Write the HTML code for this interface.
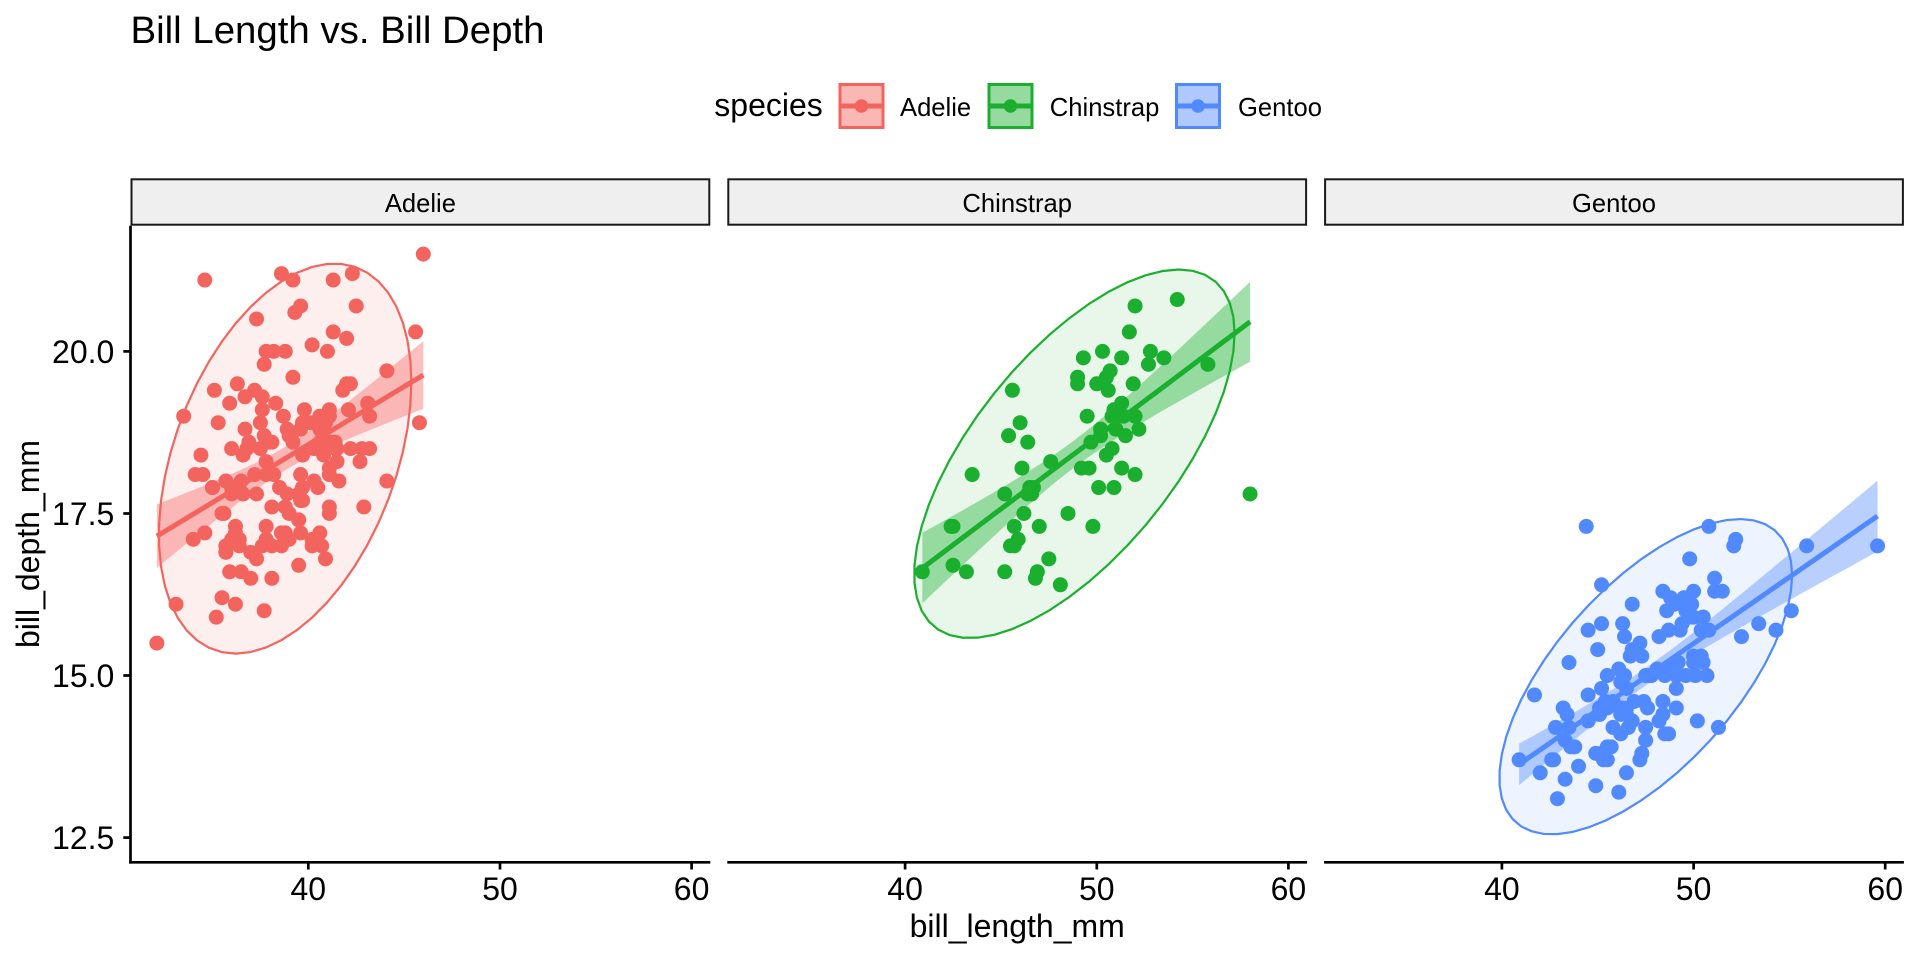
<!DOCTYPE html>
<html><head><meta charset="utf-8"><style>
html,body{margin:0;padding:0;background:#fff;}
svg{display:block;}
text{font-family:"Liberation Sans",Arial,sans-serif;fill:#000;}
</style></head><body>
<svg id="s" width="1920" height="960" viewBox="0 0 1920 960" xmlns="http://www.w3.org/2000/svg">
<rect width="1920" height="960" fill="#fff"/>
<text x="130.5" y="43" font-size="38.4">Bill Length vs. Bill Depth</text>

<!-- legend -->
<text x="714.3" y="116" font-size="32">species</text>
<g>
  <rect x="840" y="84.5" width="43" height="43" fill="#F4645E" fill-opacity="0.46" stroke="#F4645E" stroke-width="3"/>
  <line x1="840" y1="106" x2="883" y2="106" stroke="#F4645E" stroke-width="5"/>
  <circle cx="861.5" cy="106" r="6.8" fill="#F4645E"/>
  <rect x="989" y="84.5" width="43" height="43" fill="#1AAF2E" fill-opacity="0.46" stroke="#1AAF2E" stroke-width="3"/>
  <line x1="989" y1="106" x2="1032" y2="106" stroke="#1AAF2E" stroke-width="5"/>
  <circle cx="1010.5" cy="106" r="6.8" fill="#1AAF2E"/>
  <rect x="1176.5" y="84.5" width="43" height="43" fill="#5189FF" fill-opacity="0.46" stroke="#5189FF" stroke-width="3"/>
  <line x1="1176.5" y1="106" x2="1219.5" y2="106" stroke="#5189FF" stroke-width="5"/>
  <circle cx="1198" cy="106" r="6.8" fill="#5189FF"/>
</g>
<text x="900" y="116" font-size="25.6">Adelie</text>
<text x="1049.8" y="116" font-size="25.6">Chinstrap</text>
<text x="1238" y="116" font-size="25.6">Gentoo</text>

<!-- strips -->
<rect x="131.5" y="179.3" width="577.8" height="45.4" fill="#EFEFEF" stroke="#1a1a1a" stroke-width="2"/>
<rect x="728.3" y="179.3" width="577.8" height="45.4" fill="#EFEFEF" stroke="#1a1a1a" stroke-width="2"/>
<rect x="1325.1" y="179.3" width="577.8" height="45.4" fill="#EFEFEF" stroke="#1a1a1a" stroke-width="2"/>
<text x="420.4" y="212" font-size="25.6" text-anchor="middle">Adelie</text>
<text x="1017.2" y="212" font-size="25.6" text-anchor="middle">Chinstrap</text>
<text x="1614" y="212" font-size="25.6" text-anchor="middle">Gentoo</text>

<g id="data"></g>

<!-- y axis -->
<g stroke="#000" stroke-width="2.7" fill="none">
  <line x1="130.5" y1="225.7" x2="130.5" y2="863.6"/>
  <line x1="123.3" y1="351.4" x2="130.5" y2="351.4"/>
  <line x1="123.3" y1="513.5" x2="130.5" y2="513.5"/>
  <line x1="123.3" y1="675.5" x2="130.5" y2="675.5"/>
  <line x1="123.3" y1="837.6" x2="130.5" y2="837.6"/>
  <!-- x axes -->
  <line x1="129.2" y1="862.3" x2="710.3" y2="862.3"/>
  <line x1="727.3" y1="862.3" x2="1307.1" y2="862.3"/>
  <line x1="1324.1" y1="862.3" x2="1903.9" y2="862.3"/>
  <line x1="308.3" y1="862.3" x2="308.3" y2="869.5"/>
  <line x1="500" y1="862.3" x2="500" y2="869.5"/>
  <line x1="691.6" y1="862.3" x2="691.6" y2="869.5"/>
  <line x1="905.1" y1="862.3" x2="905.1" y2="869.5"/>
  <line x1="1096.8" y1="862.3" x2="1096.8" y2="869.5"/>
  <line x1="1288.4" y1="862.3" x2="1288.4" y2="869.5"/>
  <line x1="1501.9" y1="862.3" x2="1501.9" y2="869.5"/>
  <line x1="1693.6" y1="862.3" x2="1693.6" y2="869.5"/>
  <line x1="1885.2" y1="862.3" x2="1885.2" y2="869.5"/>
</g>
<g font-size="32" text-anchor="end">
  <text x="114.3" y="362.9">20.0</text>
  <text x="114.3" y="525">17.5</text>
  <text x="114.3" y="687">15.0</text>
  <text x="114.3" y="849.1">12.5</text>
</g>
<g font-size="32" text-anchor="middle">
  <text x="308.3" y="900">40</text>
  <text x="500" y="900">50</text>
  <text x="691.6" y="900">60</text>
  <text x="905.1" y="900">40</text>
  <text x="1096.8" y="900">50</text>
  <text x="1288.4" y="900">60</text>
  <text x="1501.9" y="900">40</text>
  <text x="1693.6" y="900">50</text>
  <text x="1885.2" y="900">60</text>
  <text x="1017.2" y="937">bill_length_mm</text>
  <text x="0" y="0" transform="translate(39,544) rotate(-90)">bill_depth_mm</text>
</g>
</svg>
<script>
const A=[[39.1,18.7],[39.5,17.4],[40.3,18],[36.7,19.3],[39.3,20.6],[38.9,17.8],[39.2,19.6],[34.1,18.1],[42,20.2],[37.8,17.1],[37.8,17.3],[41.1,17.6],[38.6,21.2],[34.6,21.1],[36.6,17.8],[38.7,19],[42.5,20.7],[34.4,18.4],[46,21.5],[37.8,18.3],[37.7,18.7],[35.9,19.2],[38.2,18.1],[38.8,17.2],[35.3,18.9],[40.6,18.6],[40.5,17.9],[37.9,18.6],[40.5,18.9],[39.5,16.7],[37.2,18.1],[39.5,17.8],[40.9,18.9],[36.4,17],[39.2,21.1],[38.8,20],[42.2,18.5],[37.6,19.3],[39.8,19.1],[36.5,18],[40.8,18.4],[36,18.5],[44.1,19.7],[37,16.9],[39.6,18.8],[41.1,19],[37.5,18.9],[36,17.9],[42.3,21.2],[39.6,17.7],[40.1,18.9],[35,17.9],[42,19.5],[34.5,18.1],[41.4,18.6],[39,17.5],[40.6,18.8],[36.5,16.6],[37.6,19.1],[35.7,16.9],[41.3,21.1],[37.6,17],[41.1,18.2],[36.4,17.1],[41.6,18],[35.5,16.2],[41.1,19.1],[35.9,16.6],[41.8,19.4],[33.5,19],[39.7,18.4],[39.6,17.2],[45.8,18.9],[35.5,17.5],[42.8,18.5],[40.9,16.8],[37.2,19.4],[36.2,16.1],[42.1,19.1],[34.6,17.2],[42.9,17.6],[36.7,18.8],[35.1,19.4],[37.3,17.8],[41.3,20.3],[36.3,19.5],[36.9,18.6],[38.3,19.2],[38.9,18.8],[35.7,18],[41.1,18.1],[34,17.1],[39.6,18.1],[36.2,17.3],[40.8,18.9],[38.1,18.6],[40.3,18.5],[33.1,16.1],[43.2,18.5],[35,17.9],[41,20],[37.7,16],[37.8,20],[37.9,18.6],[39.7,18.9],[38.6,17.2],[38.2,20],[38.1,17],[43.2,19],[38.1,16.5],[45.6,20.3],[39.7,17.7],[42.2,19.5],[39.6,20.7],[42.7,18.3],[38.6,17],[37.3,20.5],[35.7,17],[41.1,18.6],[36.2,17.2],[37.7,19.8],[40.2,17],[41.4,18.5],[35.2,15.9],[40.6,19],[38.8,17.6],[41.5,18.3],[39,17.1],[44.1,18],[38.5,17.9],[43.1,19.2],[36.8,18.5],[37.5,18.5],[38.1,17.6],[41.1,17.5],[35.6,17.5],[40.2,20.1],[37,16.5],[39.7,17.9],[40.2,17.1],[40.6,17.2],[32.1,15.5],[40.7,17],[37.3,16.8],[39,18.7],[39.2,18.6],[36.6,18.4],[36,17.8],[37.8,18.1],[36,17.1],[41.5,18.5]];
const C=[[46.5,17.9],[50,19.5],[51.3,19.2],[45.4,18.7],[52.7,19.8],[45.2,17.8],[46.1,18.2],[51.3,18.2],[46,18.9],[51.3,19.9],[46.6,17.8],[51.7,20.3],[47,17.3],[52,18.1],[45.9,17.1],[50.5,19.6],[50.3,20],[58,17.8],[46.4,18.6],[49.2,18.2],[42.4,17.3],[48.5,17.5],[43.2,16.6],[50.6,19.4],[46.7,17.9],[52,19],[50.5,18.4],[49.5,19],[46.4,17.8],[52.8,20],[40.9,16.6],[54.2,20.8],[42.5,16.7],[51,18.8],[49.7,18.6],[47.5,16.8],[47.6,18.3],[52,20.7],[46.9,16.6],[53.5,19.9],[49,19.5],[46.2,17.5],[50.9,19.1],[45.5,17],[50.9,17.9],[50.8,18.5],[50.1,17.9],[49,19.6],[51.5,18.7],[49.8,17.3],[48.1,16.4],[51.4,19],[45.7,17.3],[50.7,19.7],[42.5,17.3],[52.2,18.8],[45.2,16.6],[49.3,19.9],[50.2,18.8],[45.6,19.4],[51.9,19.5],[46.8,16.5],[45.7,17],[55.8,19.8],[43.5,18.1],[49.6,18.2],[50.8,19],[50.2,18.7]];
const G=[[46.1,13.2],[50,16.3],[48.7,14.1],[50,15.2],[47.6,14.5],[46.5,13.5],[45.4,14.6],[46.7,15.3],[43.3,13.4],[46.8,15.4],[40.9,13.7],[49,16.1],[45.5,13.7],[48.4,14.6],[45.8,14.6],[49.3,15.7],[42,13.5],[49.2,15.2],[46.2,14.5],[48.7,15.1],[50.2,14.3],[45.1,14.5],[46.5,14.5],[46.3,15.8],[42.9,13.1],[46.1,15.1],[44.5,14.3],[47.8,15],[48.2,14.3],[50,15.3],[47.3,15.3],[42.8,14.2],[45.1,14.5],[59.6,17],[49.1,14.8],[48.4,16.3],[42.6,13.7],[44.4,17.3],[44,13.6],[48.7,15.7],[42.7,13.7],[49.6,16],[45.3,13.7],[49.6,15],[50.5,15.9],[43.6,13.9],[45.5,13.9],[50.5,15.9],[44.9,13.3],[45.2,15.8],[46.6,14.2],[48.5,14.1],[45.1,14.4],[50.1,15],[46.5,14.4],[45,15.4],[43.8,13.9],[45.5,15],[43.2,14.5],[50.4,15.3],[45.3,13.8],[46.2,14.9],[45.7,13.9],[54.3,15.7],[45.8,14.2],[49.8,16.8],[46.2,14.4],[49.5,16.2],[43.5,14.2],[50.7,15],[47.7,15],[46.4,15.6],[48.2,15.6],[46.5,14.8],[46.4,15],[48.6,16],[47.5,14.2],[51.1,16.3],[45.2,13.8],[45.2,16.4],[49.1,14.5],[52.5,15.6],[47.4,14.6],[50,15.9],[44.9,13.8],[50.8,17.3],[43.4,14.4],[51.3,14.2],[47.5,14],[52.1,17],[47.5,15],[52.2,17.1],[45.5,14.5],[49.5,16.1],[44.5,14.7],[50.8,15.7],[49.4,15.8],[46.9,14.6],[48.4,14.4],[51.1,16.5],[48.5,15],[55.9,17],[47.2,15.5],[49.1,15],[47.3,13.8],[46.8,16.1],[41.7,14.7],[53.4,15.8],[43.3,14],[48.1,15.1],[50.5,15.2],[49.8,15.9],[43.5,15.2],[51.5,16.3],[46.2,14.1],[55.1,16],[44.5,15.7],[48.8,16.2],[47.2,13.7],[46.8,14.3],[50.4,15.7],[45.2,14.8],[49.9,16.1]];
const DATA=[A,C,G];
const cols=['#F4645E','#1AAF2E','#5189FF'];
const TQ=[1.9760,1.9966,1.9798];
const L=[130.5,727.3,1324.1], W=579.8, SX=W/30.25;
function PX(k,v){return L[k]+(v-30.725)*SX;}
function PY(v){return 837.6-(v-12.5)*64.83;}
function sum(a){let s=0;for(const v of a)s+=v;return s;}
function covWt(P){
  const n=P.length;
  const mx=sum(P.map(q=>q[0]))/n,my=sum(P.map(q=>q[1]))/n;
  let a=0,b=0,c=0;
  for(const q of P){const dx=q[0]-mx,dy=q[1]-my;a+=dx*dx;b+=dx*dy;c+=dy*dy;}
  return {cov:[a/(n-1),b/(n-1),c/(n-1)],center:[mx,my]};
}
let out='';
for(let k=0;k<3;k++){
  const P=DATA[k],n=P.length,col=cols[k];
  const r=covWt(P);
  const [a,b,c]=r.cov;
  const R11=Math.sqrt(a),R12=b/R11,R22=Math.sqrt(c-R12*R12);
  const d=n-1;
  const qf=(d/2)*(Math.pow(0.05,-2/d)-1);
  const rad=Math.sqrt(2*qf);
  let ep=[];
  for(let i=0;i<=51;i++){
    const t=i*2*Math.PI/51,co=Math.cos(t),si=Math.sin(t);
    const ex=r.center[0]+rad*(co*R11);
    const ey=r.center[1]+rad*(co*R12+si*R22);
    ep.push(PX(k,ex).toFixed(2)+','+PY(ey).toFixed(2));
  }
  const mx=r.center[0],my=r.center[1];
  let sxx=0,sxy=0;for(const q of P){sxx+=(q[0]-mx)**2;sxy+=(q[0]-mx)*(q[1]-my);}
  const b1=sxy/sxx,b0=my-b1*mx;
  let rss=0;for(const q of P){rss+=(q[1]-b0-b1*q[0])**2;}
  const s=Math.sqrt(rss/(n-2));
  const xmin=Math.min(...P.map(q=>q[0])),xmax=Math.max(...P.map(q=>q[0]));
  let up=[],lo=[],ln=[];
  for(let i=0;i<80;i++){
    const x=xmin+(xmax-xmin)*i/79;
    const f=b0+b1*x;
    const se=s*Math.sqrt(1/n+(x-mx)**2/sxx);
    up.push(PX(k,x).toFixed(2)+','+PY(f+TQ[k]*se).toFixed(2));
    lo.push(PX(k,x).toFixed(2)+','+PY(f-TQ[k]*se).toFixed(2));
    ln.push(PX(k,x).toFixed(2)+','+PY(f).toFixed(2));
  }
  out+='<polygon points="'+ep.join(' ')+'" fill="'+col+'" fill-opacity="0.1" stroke="none"/>';
  for(const q of P){out+='<circle cx="'+PX(k,q[0]).toFixed(2)+'" cy="'+PY(q[1]).toFixed(2)+'" r="7.5" fill="'+col+'"/>';}
  out+='<polygon points="'+up.join(' ')+' '+lo.reverse().join(' ')+'" fill="'+col+'" fill-opacity="0.4" stroke="none"/>';
  out+='<polyline points="'+ln.join(' ')+'" fill="none" stroke="'+col+'" stroke-width="5"/>';
  out+='<polygon points="'+ep.join(' ')+'" fill="none" stroke="'+col+'" stroke-width="2.2"/>';
}
document.getElementById('data').innerHTML=out;
</script>
</body></html>
